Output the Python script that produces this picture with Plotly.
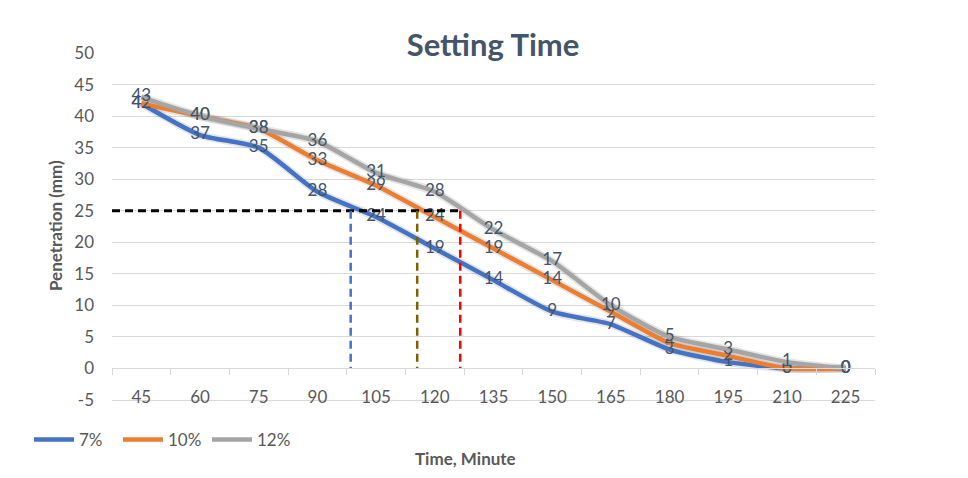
import plotly.graph_objects as go

# ---- data ----
time_min = [45, 60, 75, 90, 105, 120, 135, 150, 165, 180, 195, 210, 225]
pen_7 = [42, 37, 35, 28, 24, 19, 14, 9, 7, 3, 1, 0, 0]
pen_10 = [42, 40, 38, 33, 29, 24, 19, 14, 9, 4, 2, 0, 0]
pen_12 = [43, 40, 38, 36, 31, 28, 22, 17, 10, 5, 3, 1, 0]
series_names = ["7%", "10%", "12%"]
threshold = 25
setting_times = [98.5, 115.5, 126.5]  # where each curve reaches 25 mm
y_ticks = list(range(-5, 55, 5))

colors = ["#4472C4", "#ED7D31", "#A5A5A5"]
marker_colors = ["#4472C4", "#7F6000", "#FF0000"]
label_color = "#44546A"
axis_text = "#595959"
FONT = "Lato"

# page body has an 8px margin -> figure coords = screen coords - 8
OFF = 8
W, H = 968 - OFF, 478 - OFF
ml = 112 - OFF
mt = 53 - OFF
plot_right = 875 - OFF
plot_bottom = 400 - OFF
mr = W - plot_right
mb = H - plot_bottom
PW = W - ml - mr
PH = H - mt - mb


def px_x(sx):
    return (sx - OFF - ml) / PW


def px_y(sy):
    return (H - mb - (sy - OFF)) / PH


fig = go.Figure()

# shadows
for vals in (pen_7, pen_10, pen_12):
    fig.add_trace(go.Scatter(
        x=time_min, y=vals, mode="lines",
        line=dict(color="rgba(0,0,0,0.10)", width=8, shape="spline", smoothing=0.6),
        showlegend=False, hoverinfo="skip"))

for name, vals, col in zip(series_names, (pen_7, pen_10, pen_12), colors):
    fig.add_trace(go.Scatter(
        x=time_min, y=vals, mode="lines+text", name=name,
        text=[str(v) for v in vals], textposition="middle center",
        textfont=dict(family=FONT, size=17, color=label_color),
        line=dict(color=col, width=4.5, shape="spline", smoothing=0.6)))

# threshold dashed lines
x_left = time_min[0] - 7.5
fig.add_trace(go.Scatter(
    x=[x_left, max(setting_times)], y=[threshold, threshold], mode="lines",
    line=dict(color="black", width=3, dash="8px,5px"),
    showlegend=False, hoverinfo="skip"))
for t, c in zip(setting_times, marker_colors):
    fig.add_trace(go.Scatter(
        x=[t, t], y=[threshold, 0], mode="lines",
        line=dict(color=c, width=2.5, dash="8px,5px"),
        showlegend=False, hoverinfo="skip"))

# invisible trace for category axis at y=0
fig.add_trace(go.Scatter(x=[time_min[0]], y=[0], xaxis="x2", mode="markers",
                         marker=dict(opacity=0), showlegend=False, hoverinfo="skip"))

x_range = [time_min[0] - 7.5, time_min[-1] + 7.5]
zero_pos = (0 - y_ticks[0]) / (y_ticks[-1] - y_ticks[0])
between = [t - 7.5 for t in time_min] + [time_min[-1] + 7.5]

fig.update_layout(
    width=W, height=H,
    margin=dict(l=ml, r=mr, t=mt, b=mb),
    paper_bgcolor="white", plot_bgcolor="white",
    font=dict(family=FONT, color=axis_text),
    title=dict(text="<b>Setting Time</b>", x=(493 - OFF) / W, xanchor="center",
               y=1 - (45 - OFF) / H, yanchor="middle",
               font=dict(family=FONT, size=31, color="#44546A")),
    xaxis=dict(range=x_range, tickvals=time_min, ticktext=[str(t) for t in time_min],
               showgrid=False, zeroline=False, showline=True, linecolor="#D9D9D9",
               linewidth=1, ticks="", ticklabelstandoff=-18,
               tickfont=dict(family=FONT, size=17, color=axis_text)),
    xaxis2=dict(range=x_range, overlaying="x", anchor="free", position=zero_pos,
                side="bottom", showgrid=False, zeroline=False, showline=True,
                linecolor="#D9D9D9", linewidth=1, ticks="outside", ticklen=6,
                tickcolor="#D9D9D9", tickvals=between, showticklabels=False),
    yaxis=dict(range=[y_ticks[0], y_ticks[-1]], tickvals=y_ticks,
               ticktext=[str(v) for v in y_ticks],
               showgrid=True, gridcolor="#D9D9D9", gridwidth=1,
               zeroline=False, showline=False, ticks="", ticklabelstandoff=17,
               tickfont=dict(family=FONT, size=17, color=axis_text)),
    legend=dict(orientation="h", x=px_x(29), xanchor="left",
                y=px_y(440), yanchor="middle",
                font=dict(family=FONT, size=17, color=axis_text),
                bgcolor="rgba(0,0,0,0)", itemwidth=40, entrywidth=34,
                entrywidthmode="pixels", tracegroupgap=0),
    annotations=[
        dict(text="<b>Time, Minute</b>", xref="paper", yref="paper",
             x=px_x(465), y=px_y(458), xanchor="center", yanchor="middle",
             showarrow=False, font=dict(family=FONT, size=17, color=axis_text)),
        dict(text="<b>Penetration (mm)</b>", xref="paper", yref="paper",
             x=px_x(55), y=px_y(226), xanchor="center", yanchor="middle",
             textangle=-90, showarrow=False,
             font=dict(family=FONT, size=17, color=axis_text)),
    ],
)

fig.write_html("out.html")
